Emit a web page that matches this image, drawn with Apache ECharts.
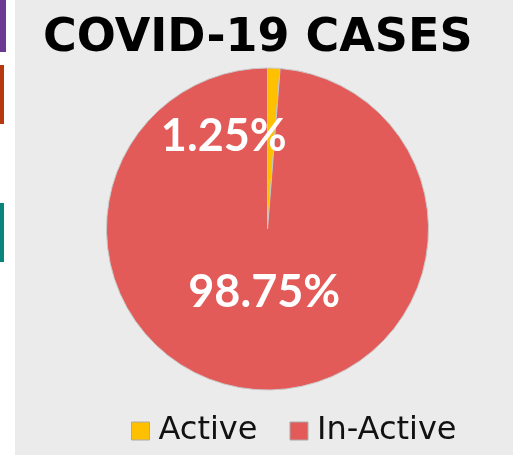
<!DOCTYPE html>
<html lang="en">
<head>
<meta charset="UTF-8">
<title>COVID-19 Cases</title>
<script src="https://cdn.jsdelivr.net/npm/echarts@6/dist/echarts.min.js"></script>
<style>
  body{ margin:0; background:#fff; }
  .bar{ position:absolute; left:0; }
  #main{ position:absolute; left:15px; top:0; width:498px; height:455px; background:#ebebeb; }
</style>
</head>
<body>
<div class="bar" style="top:0;width:6px;height:52px;background:#6a3a92"></div>
<div class="bar" style="top:65px;width:4px;height:59px;background:#b7380f"></div>
<div class="bar" style="top:203px;width:4px;height:59px;background:#0a857b"></div>
<div id="main"></div>
<script>
  let categories = ['Active', 'In-Active'];
  let percents = [1.25, 98.75];
  let colors = ['#ffc000', '#e35b58'];

  let myChart = echarts.init(document.getElementById('main'));
  let data = categories.map((name, i) => ({
    name: name,
    value: percents[i],
    itemStyle: { color: colors[i] },
    label: { offset: i == 0 ? [-47, -9] : [0, -20] }
  }));

  let option = {
    title: {
      text: 'COVID-19 CASES',
      left: 23,
      top: 11,
      textStyle: { fontFamily: 'DejaVu Sans', fontSize: 46, fontWeight: 'bold', color: '#000' }
    },
    legend: {
      data: categories,
      left: 111,
      top: 410,
      itemWidth: 18,
      itemHeight: 18,
      itemGap: 32,
      icon: 'rect',
      textStyle: { fontFamily: 'DejaVu Sans', fontSize: 32, color: '#111', padding: [0, 0, 0, 4] },
      itemStyle: { borderColor: '#aaa', borderWidth: 1 }
    },
    series: [{
      type: 'pie',
      center: [252.5, 229],
      radius: [0, 161],
      startAngle: 90,
      clockwise: true,
      silent: true,
      data: data,
      itemStyle: { borderColor: '#c8c8c8', borderWidth: 1 },
      label: {
        show: true,
        position: 'inside',
        formatter: p => p.value.toFixed(2) + '%',
        fontFamily: 'Lato',
        fontSize: 45,
        fontWeight: 'bold',
        color: '#fff'
      },
      labelLine: { show: false }
    }]
  };
  myChart.setOption(option);
</script>
</body>
</html>
